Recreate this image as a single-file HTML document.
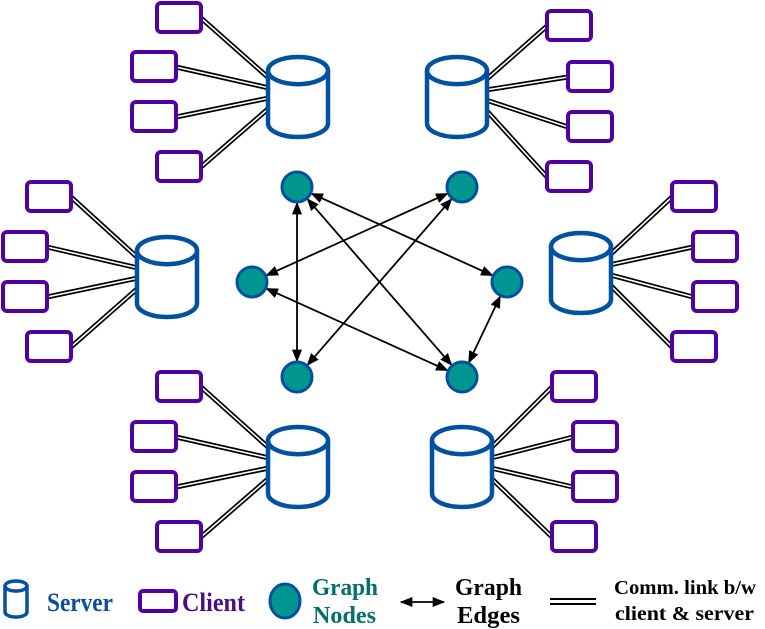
<!DOCTYPE html>
<html><head><meta charset="utf-8"><style>
html,body{margin:0;padding:0;background:#fff;width:765px;height:629px;overflow:hidden}
</style></head><body>
<svg width="765" height="629" viewBox="0 0 765 629" xmlns="http://www.w3.org/2000/svg" font-family="Liberation Serif, serif" font-weight="bold">
<defs>
<marker id="ah" viewBox="0 0 10 10" refX="9" refY="5" markerWidth="7" markerHeight="7" orient="auto-start-reverse"><path d="M0,1 L10,5 L0,9 z" fill="#000"/></marker>
</defs>
<g id="links"></g>
<g id="main"></g>
<script>
var NS="http://www.w3.org/2000/svg";
var links=document.getElementById('links'),main=document.getElementById('main');
function el(p,t,a){var e=document.createElementNS(NS,t);for(var k in a)e.setAttribute(k,a[k]);p.appendChild(e);return e;}
function dbl(x1,y1,x2,y2){el(links,'line',{x1:x1,y1:y1,x2:x2,y2:y2,stroke:'#000','stroke-width':5});el(links,'line',{x1:x1,y1:y1,x2:x2,y2:y2,stroke:'#fff','stroke-width':1.6});}
function cyl(x,y,w,h){var rx=w/2,ry=h*0.17;
el(main,'path',{d:'M'+x+','+(y+ry)+' L'+x+','+(y+h-ry)+' A'+rx+','+ry+' 0 0 0 '+(x+w)+','+(y+h-ry)+' L'+(x+w)+','+(y+ry)+' A'+rx+','+ry+' 0 0 0 '+x+','+(y+ry)+' z',fill:'#fff',stroke:'#0050a0','stroke-width':4.5});
el(main,'path',{d:'M'+x+','+(y+ry)+' A'+rx+','+ry+' 0 0 0 '+(x+w)+','+(y+ry),fill:'none',stroke:'#0050a0','stroke-width':4.5});}
function cl(x,y){el(main,'rect',{x:x,y:y,width:44,height:29,rx:4,fill:'#fff',stroke:'#5000a0','stroke-width':4});}
function cluster(cx,cy,clients,side){
 clients.forEach(function(c){
  var sx=side<0?cx+1:cx+59, sy=cy+40+(c[1]-cy-40)*0.2;
  var ex=side<0?c[0]+44:c[0], ey=c[1]+15;
  dbl(ex,ey,sx,sy);
  cl(c[0],c[1]);
 });
 cyl(cx,cy,60,80);
}
cluster(268,57,[[157,3],[132,52],[132,102],[157,152]],-1);
cluster(427,57,[[547,11],[568,62],[568,112],[547,162]],1);
cluster(137,237,[[27,182],[3,232],[3,282],[27,332]],-1);
cluster(551,233,[[672,182],[693,232],[693,282],[672,332]],1);
cluster(268,427,[[157,372],[132,422],[132,472],[157,522]],-1);
cluster(432,427,[[552,372],[573,422],[573,472],[552,522]],1);
var N=[[297,187],[462,187],[252,282],[507,282],[297,377],[462,377]];
var E=[[0,4],[0,3],[0,5],[1,2],[1,4],[2,5],[3,5]];
E.forEach(function(e){var a=N[e[0]],b=N[e[1]];var dx=b[0]-a[0],dy=b[1]-a[1],L=Math.sqrt(dx*dx+dy*dy),r=16;
el(main,'line',{x1:a[0]+dx/L*r,y1:a[1]+dy/L*r,x2:b[0]-dx/L*r,y2:b[1]-dy/L*r,stroke:'#000','stroke-width':1.8,'marker-start':'url(#ah)','marker-end':'url(#ah)'});});
N.forEach(function(n){el(main,'circle',{cx:n[0],cy:n[1],r:15,fill:'#009690',stroke:'#0050a0','stroke-width':3});});
var g=main;
el(g,'path',{d:'M5,586 L5,612 A11,5 0 0 0 27,612 L27,586 A11,5 0 0 0 5,586 z',fill:'#fff',stroke:'#0050a0','stroke-width':3.5});
el(g,'path',{d:'M5,586 A11,5 0 0 0 27,586',fill:'none',stroke:'#0050a0','stroke-width':3.5});
el(g,'rect',{x:140,y:591,width:36,height:20,rx:3,fill:'#fff',stroke:'#5000a0','stroke-width':4});
el(g,'ellipse',{cx:285,cy:601,rx:15,ry:17,fill:'#009690',stroke:'#0050a0','stroke-width':3});
el(g,'line',{x1:401,y1:602,x2:444,y2:602,stroke:'#000','stroke-width':1.8,'marker-start':'url(#ah)','marker-end':'url(#ah)'});
el(g,'line',{x1:550,y1:599,x2:596,y2:599,stroke:'#000','stroke-width':2});
el(g,'line',{x1:550,y1:604,x2:596,y2:604,stroke:'#000','stroke-width':2});
</script>
<text x="47" y="611" font-size="26" fill="#0b4f9c" textLength="66" lengthAdjust="spacingAndGlyphs">Server</text>
<text x="182" y="611" font-size="26" fill="#4a1080" textLength="63" lengthAdjust="spacingAndGlyphs">Client</text>
<text x="312" y="595" font-size="24" fill="#006e6a" textLength="66" lengthAdjust="spacingAndGlyphs">Graph</text>
<text x="313" y="623" font-size="24" fill="#006e6a" textLength="63" lengthAdjust="spacingAndGlyphs">Nodes</text>
<text x="455" y="595" font-size="24" fill="#000" textLength="67" lengthAdjust="spacingAndGlyphs">Graph</text>
<text x="457" y="623" font-size="24" fill="#000" textLength="63" lengthAdjust="spacingAndGlyphs">Edges</text>
<text x="614" y="594" font-size="20" fill="#000" textLength="142" lengthAdjust="spacingAndGlyphs">Comm. link b/w</text>
<text x="615" y="620" font-size="20" fill="#000" textLength="139" lengthAdjust="spacingAndGlyphs">client &amp; server</text>
</svg>
</body></html>
